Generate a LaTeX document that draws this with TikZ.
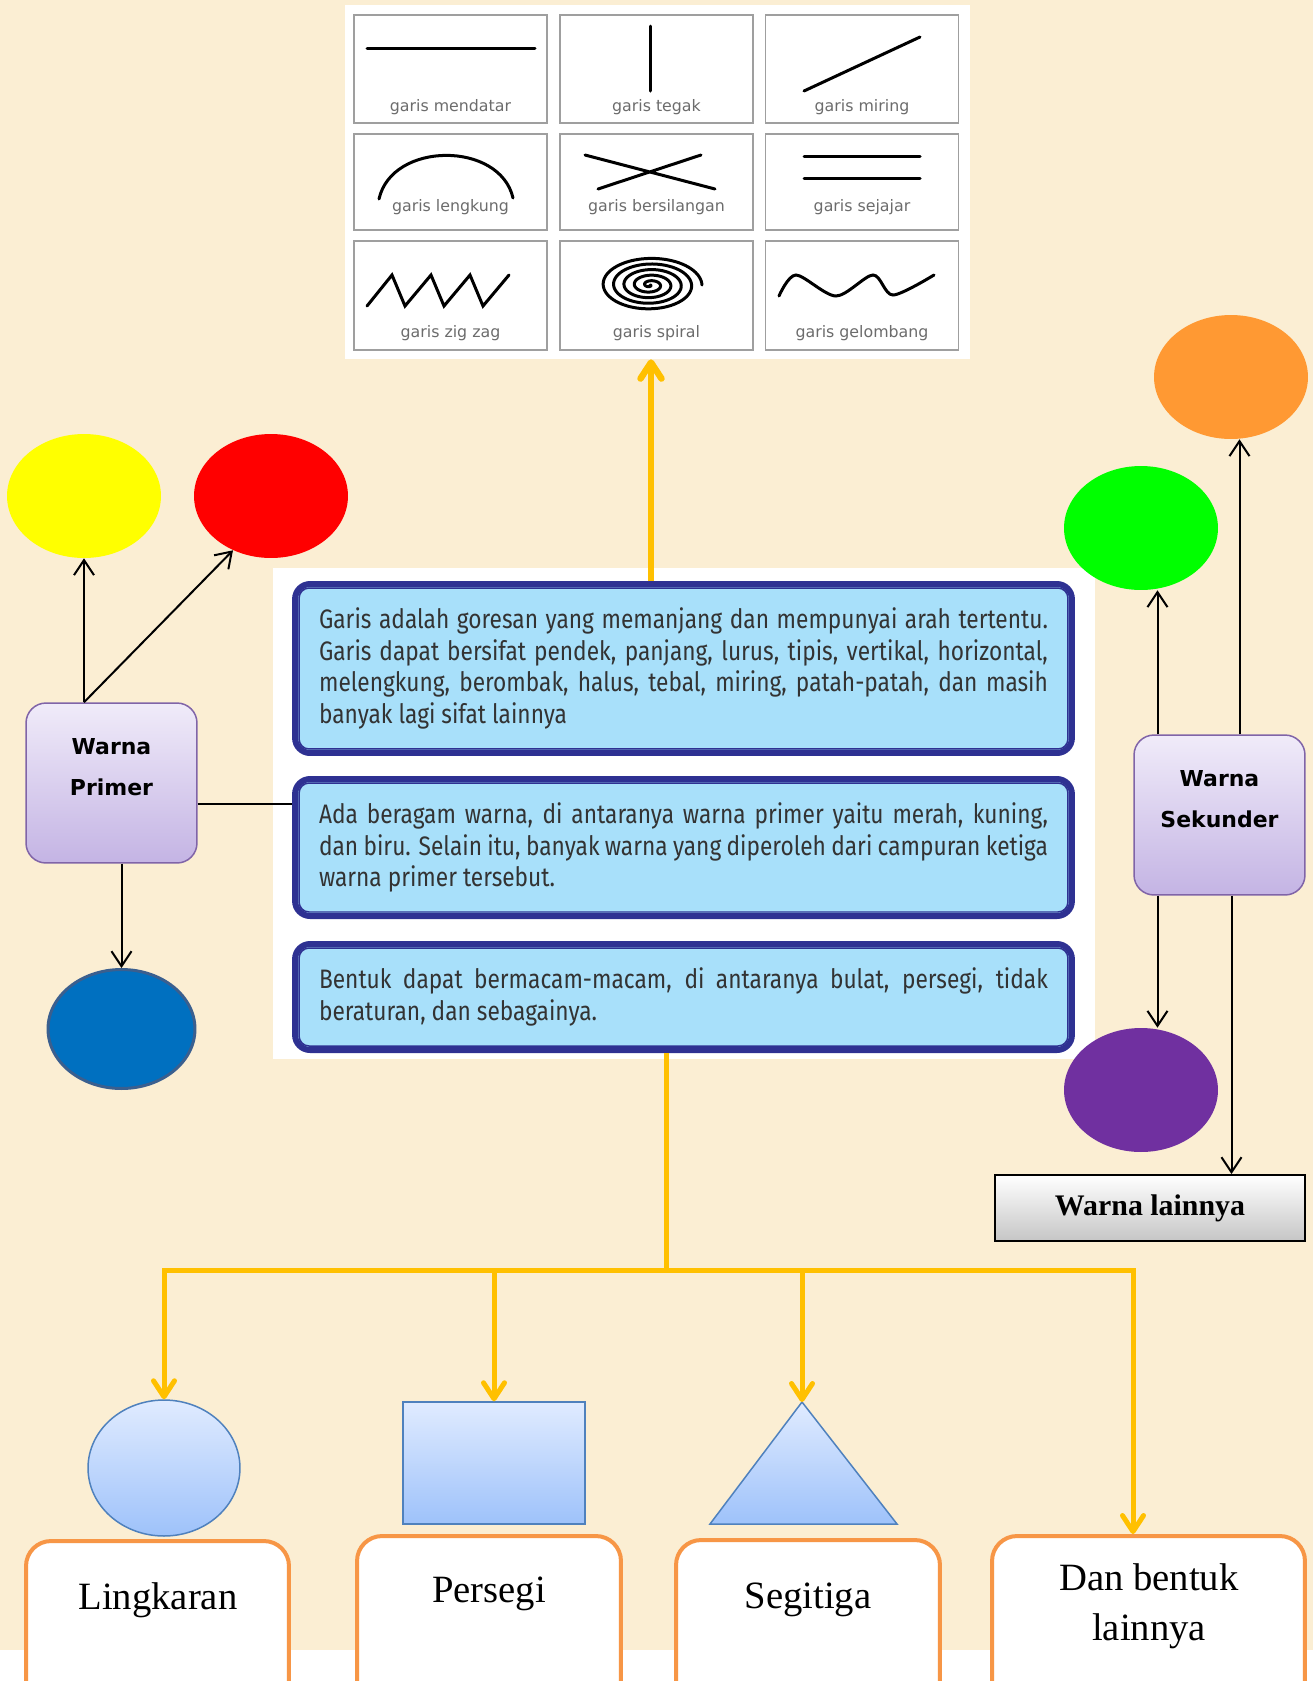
\documentclass[tikz,border=0pt]{standalone}
\usepackage{fontspec}
\setmainfont{Liberation Serif}
\newfontfamily\boxfont[FakeStretch=0.85]{Fira Sans}
\newfontfamily\labelfont{DejaVu Sans}
\usetikzlibrary{arrows.meta,shapes.geometric}
\tolerance=9999

\definecolor{bgbeige}{RGB}{251,238,211}
\definecolor{emas}{RGB}{255,192,0}
\definecolor{navyedge}{RGB}{46,49,146}
\definecolor{skyfill}{RGB}{168,224,250}
\definecolor{lilactop}{RGB}{240,235,249}
\definecolor{lilacbot}{RGB}{196,180,228}
\definecolor{lilacedge}{RGB}{128,100,168}
\definecolor{bluetop}{RGB}{224,235,255}
\definecolor{bluebot}{RGB}{158,194,250}
\definecolor{blueedge}{RGB}{79,129,189}
\definecolor{tangerine}{RGB}{247,150,70}
\definecolor{kuningc}{RGB}{255,255,0}
\definecolor{merahc}{RGB}{255,0,0}
\definecolor{biruc}{RGB}{0,112,192}
\definecolor{biruring}{RGB}{58,95,143}
\definecolor{oranyec}{RGB}{255,153,51}
\definecolor{hijauc}{RGB}{0,255,0}
\definecolor{unguc}{RGB}{112,48,160}

\begin{document}
\begin{tikzpicture}[x=0.02cm, y=-0.02cm,
  cell/.style={draw=gray!75, line width=0.03cm},
  celltext/.style={font=\labelfont\fontsize{9}{10}\selectfont, text=gray!85!black},
  stroke/.style={line width=0.06cm, line cap=round},
  blob/.style={ellipse, minimum width=3.08cm, minimum height=2.48cm, inner sep=0pt},
  warnabox/.style={draw=lilacedge, line width=0.03cm, rounded corners=0.4cm,
    top color=lilactop, bottom color=lilacbot, minimum width=3.42cm, minimum height=3.2cm},
  warnatext/.style={font=\labelfont\bfseries\fontsize{12.5}{23}\selectfont, align=center},
  infobox/.style={draw=navyedge, line width=0.12cm, rounded corners=0.3cm, fill=skyfill,
    text width=14.58cm, inner xsep=0.48cm, align=justify, text=black!80,
    font=\boxfont\fontsize{15.2}{18}\selectfont},
  lainbox/.style={draw=black, line width=0.04cm, top color=white, bottom color=gray!45,
    minimum width=6.2cm, minimum height=1.32cm, font=\bfseries\fontsize{17}{20}\selectfont},
  bentukshape/.style={draw=blueedge, line width=0.03cm, top color=bluetop, bottom color=bluebot, inner sep=0pt},
  labelbox/.style={draw=tangerine, line width=0.08cm, rounded corners=0.5cm, fill=white, minimum height=4cm},
  labeltext/.style={font=\fontsize{22}{28.5}\selectfont, align=center},
  blkarrow/.style={line width=0.04cm, -{Straight Barb[length=0.3cm,width=0.4cm]}},
  emasline/.style={draw=emas, line width=0.1cm},
  emasarrow/.style={emasline, -{Straight Barb[length=0.32cm,width=0.42cm,round]}}]

\useasboundingbox (0,0) rectangle (1313,1681);
\fill[bgbeige] (0,0) rectangle (1313,1650);
\fill[white] (0,1650) rectangle (1313,1681);

% jenis garis
\node[fill=white, minimum width=12.5cm, minimum height=7.08cm, inner sep=0pt] (panel) at (657.5,182) {};
\foreach \cx in {450.5,656.5,862}
  \foreach \top/\bot in {15/123,134/230,241/350}
    \draw[cell] (\cx-96.5,\top) rectangle (\cx+96.5,\bot);
\node[celltext] at (450.5,107) {garis mendatar};
\node[celltext] at (656.5,107) {garis tegak};
\node[celltext] at (862,107) {garis miring};
\node[celltext] at (450.5,207) {garis lengkung};
\node[celltext] at (656.5,207) {garis bersilangan};
\node[celltext] at (862,207) {garis sejajar};
\node[celltext] at (450.5,333) {garis zig zag};
\node[celltext] at (656.5,333) {garis spiral};
\node[celltext] at (862,333) {garis gelombang};
\draw[stroke] (367,48) -- (535,48);
\draw[stroke] (650,26) -- (650,91);
\draw[stroke] (804,91) -- (920,37);
\draw[stroke] (379,199) .. controls (392,141) and (500,141) .. (513,198);
\draw[stroke] (585,155) -- (715,189) (598,189) -- (701,155);
\draw[stroke] (804,156) -- (920,156) (804,178) -- (920,178);
\draw[stroke, line join=miter] (367,306) -- (392,275) -- (405,306) -- (431,275) -- (444,306)
  -- (470,275) -- (483,306) -- (509,275);
\draw[stroke] plot[domain=0:1800, samples=400, variable=\t]
  ({650+(\t/1800)*52*cos(\t)}, {285+(\t/1800)*28*sin(\t)});
\draw[stroke] plot[smooth] coordinates {(779,296) (796,275) (836,296) (873,275) (893,295) (934,275)};

% kotak keterangan
\fill[white] (273,568) rectangle (1095,1059);
\node[infobox, minimum height=3.38cm] (garis) at (683.5,668.5) {Garis adalah goresan yang memanjang dan mempunyai arah tertentu.\linebreak
  Garis dapat bersifat pendek, panjang, lurus, tipis, vertikal, horizontal,\linebreak
  melengkung, berombak, halus, tebal, miring, patah-patah, dan masih\linebreak
  banyak lagi sifat lainnya};
\node[infobox, minimum height=2.74cm] (warna) at (683.5,847.5) {Ada beragam warna, di antaranya warna primer yaitu merah, kuning,\linebreak
  dan biru. Selain itu, banyak warna yang diperoleh dari campuran ketiga\linebreak
  warna primer tersebut.};
\node[infobox, minimum height=2.12cm] (bentuk) at (683.5,997) {Bentuk dapat bermacam-macam, di antaranya bulat, persegi, tidak\linebreak
  beraturan, dan sebagainya.};
\foreach \b in {garis,warna,bentuk}
  \draw[navyedge, line width=0.03cm, rounded corners=0.2cm]
    ([shift={(7,7)}]\b.north west) rectangle ([shift={(-7,-7)}]\b.south east);
\draw[emasarrow, line width=0.13cm] ([shift={(-32.5,0)}]garis.north) -- ([shift={(-6.5,0)}]panel.south);

% warna primer
\node[blob, fill=kuningc] (kuning) at (84,496) {};
\node[blob, fill=merahc] (merah) at (271,496) {};
\node[warnabox] (primer) at (111.5,783) {};
\node[warnatext] at (111.5,767) {Warna\\Primer};
\node[blob, fill=biruc, draw=biruring, line width=0.06cm, minimum width=2.94cm, minimum height=2.38cm] (biru) at (121.5,1029) {};
\coordinate (pr) at ([shift={(-27.5,0)}]primer.north);
\draw[blkarrow] (pr) -- (kuning.south);
\draw[blkarrow] (pr) -- (merah.235);
\draw[blkarrow] ([shift={(10,0)}]primer.south) -- (biru.north);
\coordinate (pw) at ([shift={(0,21)}]primer.east);
\draw[line width=0.03cm] (pw) -- (pw -| warna.west);

% warna sekunder
\node[blob, fill=oranyec] (oranye) at (1231,377) {};
\node[blob, fill=hijauc] (hijau) at (1141,528) {};
\node[warnabox] (sekunder) at (1219.5,815) {};
\node[warnatext] at (1219.5,799) {Warna\\Sekunder};
\node[blob, fill=unguc] (ungu) at (1141,1090) {};
\node[lainbox] (lain) at (1150,1208) {Warna lainnya};
\coordinate (sk1) at ([shift={(-62,0)}]sekunder.north);
\coordinate (sk2) at ([shift={(20,0)}]sekunder.north);
\coordinate (sk3) at ([shift={(-62,0)}]sekunder.south);
\coordinate (sk4) at ([shift={(12,0)}]sekunder.south);
\draw[blkarrow] (sk1) -- (sk1 |- hijau.south);
\draw[blkarrow] (sk2) -- (sk2 |- oranye.south);
\draw[blkarrow] (sk3) -- (sk3 |- ungu.north);
\draw[blkarrow] (sk4) -- (sk4 |- lain.north);

% bentuk
\node[bentukshape, ellipse, minimum width=3.04cm, minimum height=2.72cm] (lingkaran) at (164,1468) {};
\node[bentukshape, minimum width=3.64cm, minimum height=2.44cm] (persegi) at (494,1463) {};
\draw[bentukshape] (802,1402) -- (897,1524) -- (710,1524) -- cycle;
\coordinate (segitiga) at (802,1402);
\node[labelbox, minimum width=5.26cm] (lingkbox) at (157.5,1641) {};
\node[labelbox, minimum width=5.28cm] (persbox) at (489,1636) {};
\node[labelbox, minimum width=5.28cm] (segbox) at (808,1640) {};
\node[labelbox, minimum width=6.26cm] (danbox) at (1148.5,1636) {};
\node[labeltext] at (158,1600) {Lingkaran};
\node[labeltext] at (489,1594) {Persegi};
\node[labeltext] at (808,1600) {Segitiga};
\node[labeltext] at (1149,1606) {Dan bentuk\\lainnya};
\coordinate (simpul) at (666,1270);
\coordinate (turun) at ([shift={(-17.5,0)}]bentuk.south);
\coordinate (danpin) at ([shift={(-15.5,0)}]danbox.north);
\draw[emasline] (turun) -- (simpul);
\draw[emasarrow] (simpul) -| (lingkaran.north);
\draw[emasarrow] (simpul) -| (persegi.north);
\draw[emasarrow] (simpul) -| (segitiga);
\draw[emasarrow] (simpul) -| (danpin);

\end{tikzpicture}
\end{document}
